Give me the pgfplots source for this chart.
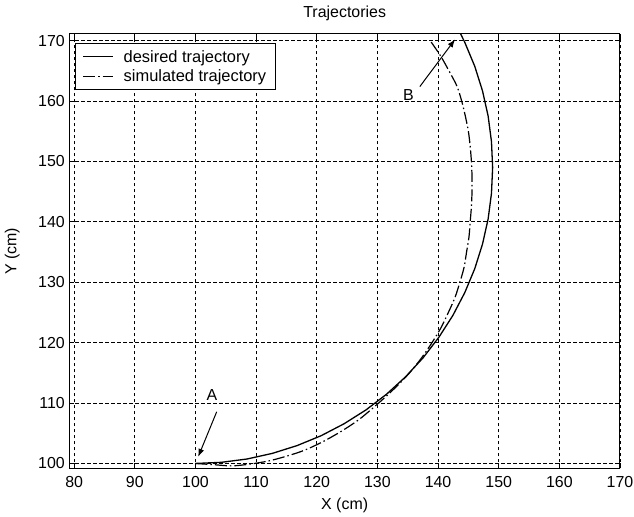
\documentclass[border=0pt]{standalone}
\usepackage{fontspec}
\setmainfont{Liberation Sans}
\usepackage{pgfplots}
\pgfplotsset{compat=1.18}
\usetikzlibrary{arrows.meta}
\begin{document}
\begin{tikzpicture}
\useasboundingbox (-69.3bp,-48.7bp) rectangle (564.7bp,468.3bp);
\begin{axis}[
  scale only axis, width=550.7bp, height=434.3bp,
  at={(0,0)}, anchor=south west,
  xmin=79.2, xmax=170, ymin=99.2, ymax=171.1,
  xtick={80,90,...,170}, ytick={100,110,...,170},
  tick align=inside, xtick pos=both, ytick pos=both,
  major tick length=5bp,
  grid=major,
  major grid style={black, line width=0.8bp, dash pattern=on 3.5bp off 2.5bp},
  axis line style={black, line width=1bp},
  every tick/.style={black, line width=0.8bp},
  /pgf/number format/assume math mode=true,
  ticklabel style={font=\fontsize{16}{19}\selectfont},
  xticklabel style={yshift=-5bp},
  yticklabel style={xshift=-1bp},
  title={Trajectories},
  xlabel={X (cm)}, ylabel={Y (cm)},
  every axis title/.style={at={(axis description cs:0.5,1)}, anchor=center, yshift=21bp, font=\fontsize{16}{19}\selectfont},
  every axis x label/.style={at={(axis description cs:0.5,0)}, anchor=center, yshift=-37bp, font=\fontsize{16}{19}\selectfont},
  every axis y label/.style={at={(axis description cs:-0.1035,0.5)}, anchor=center, rotate=90, font=\fontsize{16}{19}\selectfont},
  legend style={at={(0,1)}, anchor=north west, xshift=5.7bp, yshift=-8.7bp,
    draw=black, line width=0.8bp, fill=white,
    font=\fontsize{16.5}{19}\selectfont, inner xsep=7bp, inner ysep=5bp,
    row sep=2bp,
    /tikz/every odd column/.append style={column sep=8bp}},
  legend cell align=left,
  legend image code/.code={\draw[#1] (0bp,0bp) -- (30bp,0bp);},
]
\addplot[black, line width=1.3bp] coordinates {
(100,100) (104.27,100.19) (108.51,100.74) (112.68,101.67) (116.76,102.96)
(120.71,104.59) (124.5,106.57) (128.11,108.86) (131.50,111.46) (134.65,114.35)
(137.54,117.50) (140.14,120.90) (142.44,124.5) (144.41,128.29) (146.05,132.24)
(147.33,136.32) (148.26,140.49) (148.81,144.73) (149,149) (148.81,153.27)
(148.26,157.51) (147.33,161.68) (146.05,165.76) (144.41,169.71) (143.66,171.25)
};
\addlegendentry{desired trajectory}
\addplot[black, line width=1.2bp, smooth, dash pattern=on 12bp off 3bp on 1.5bp off 3bp] coordinates {
(100,100) (103,99.8) (106,99.6) (109,99.9) (112,100.4) (115,101.2) (118,102.2)
(121,103.6) (124,105.3) (127,107.3) (130.2,110) (132.9,112.5) (135.3,115)
(137.3,117.5) (139,120) (140.5,122.5) (141.7,125) (142.8,127.5) (143.6,130)
(144.3,132.5) (144.7,135) (145.1,137.5) (145.3,140) (145.5,142.5) (145.6,145)
(145.6,147.5) (145.5,150) (145.3,152.5) (145,155) (144.5,157.5) (143.9,160)
(143.1,162.5) (141.8,165) (140.4,167.5) (138.7,170)
};
\addlegendentry{simulated trajectory\hspace{10bp}}
\draw[black, line width=1bp, -{Latex[length=8bp,width=6bp]}] (axis cs:103.5,108.55) -- (axis cs:100.45,101.1);
\draw[black, line width=1bp, -{Latex[length=8bp,width=6bp]}] (axis cs:137.0,162.4) -- (axis cs:142.8,170.2);
\node[font=\fontsize{16}{19}\selectfont] at (axis cs:102.7,111.3) {A};
\node[font=\fontsize{16}{19}\selectfont] at (axis cs:135.1,161.0) {B};
\end{axis}
\end{tikzpicture}
\end{document}
